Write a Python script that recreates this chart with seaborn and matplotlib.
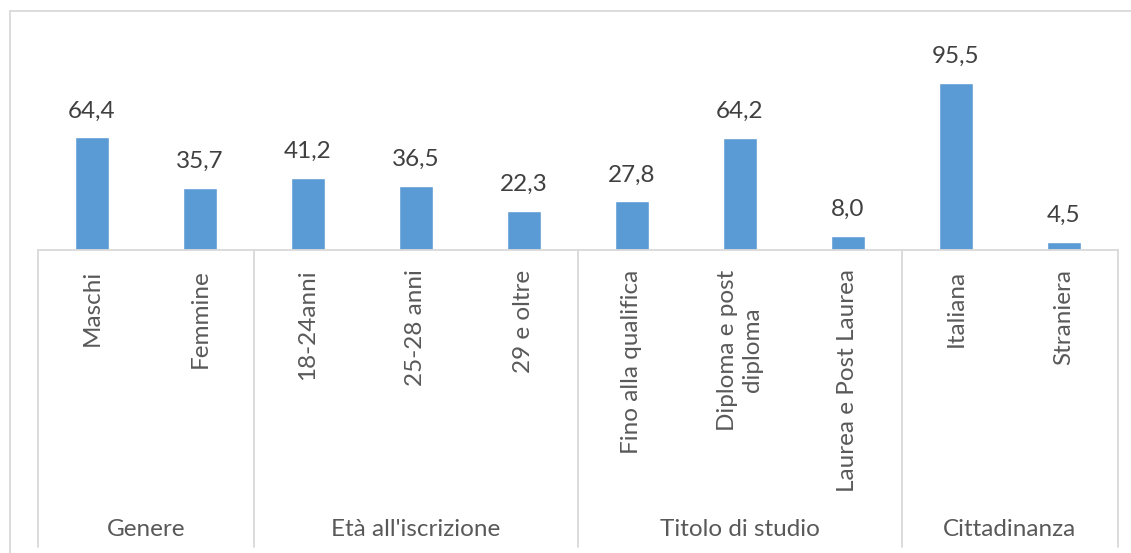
import matplotlib
matplotlib.use("Agg")
import matplotlib.pyplot as plt
from matplotlib.patches import Rectangle
import seaborn as sns
import pandas as pd

# Categories, values and group headings
categories = ["Maschi", "Femmine", "18-24anni", "25-28 anni", "29 e oltre",
              "Fino alla qualifica", "Diploma e post\ndiploma", "Laurea e Post Laurea",
              "Italiana", "Straniera"]
values = [64.4, 35.7, 41.2, 36.5, 22.3, 27.8, 64.2, 8.0, 95.5, 4.5]
groups = ["Genere", "Età all'iscrizione", "Titolo di studio", "Cittadinanza"]
group_sizes = [2, 3, 3, 2]

BAR = "#5B9BD5"
GRID = "#D9D9D9"
TEXT = "#595959"
LABEL = "#404040"
FS = 17.5

sns.set_theme(style="white")
plt.rcParams["font.family"] = ["Lato", "DejaVu Sans"]

W, H = 1131, 553
fig = plt.figure(figsize=(W / 100, H / 100), dpi=100)

# plot area in pixel coordinates
left_px, right_px, base_px, top_px = 38, 1118, 250, 40
ax = fig.add_axes([left_px / W, (H - base_px) / H,
                   (right_px - left_px) / W, (base_px - top_px) / H])

df = pd.DataFrame({"cat": categories, "val": values})
sns.barplot(data=df, x="cat", y="val", color=BAR, width=0.315,
            saturation=1, ax=ax)

ax.set_xlim(-0.5, len(categories) - 0.5)
ax.set_ylim(0, 120)
ax.set_xlabel("")
ax.set_ylabel("")
ax.set_yticks([])
for side in ["left", "right", "top"]:
    ax.spines[side].set_visible(False)
ax.spines["bottom"].set_color(GRID)
ax.spines["bottom"].set_linewidth(1.3)

# value labels above bars
for i, v in enumerate(values):
    ax.annotate(f"{v:.1f}".replace(".", ","), (i, v), xytext=(0, 19),
                textcoords="offset points", ha="center", va="center",
                fontsize=FS, color=LABEL)

# rotated category labels
ax.set_xticks(range(len(categories)))
ax.set_xticklabels(categories, rotation=90, va="top", ha="center",
                   multialignment="center", fontsize=FS, color=TEXT)
ax.tick_params(axis="x", length=0, pad=14)

# group separators and group headings
trans = ax.get_xaxis_transform()
axis_h = base_px - top_px
bottom_frac = -(547 - base_px) / axis_h
label_frac = -(530 - base_px) / axis_h
edges = [-0.5]
for n in group_sizes:
    edges.append(edges[-1] + n)
for e in edges:
    ax.plot([e, e], [0, bottom_frac], color=GRID, lw=1.3,
            transform=trans, clip_on=False)
for g, a, b in zip(groups, edges[:-1], edges[1:]):
    ax.text((a + b) / 2, label_frac, g, transform=trans, ha="center",
            va="center", fontsize=FS, color=TEXT)

# chart frame
fig.add_artist(Rectangle((10 / W, -0.1), 1.2, (H - 11) / H + 0.1,
                         transform=fig.transFigure, fill=False,
                         edgecolor=GRID, lw=1.3))

fig.savefig("out.png", dpi=100)
